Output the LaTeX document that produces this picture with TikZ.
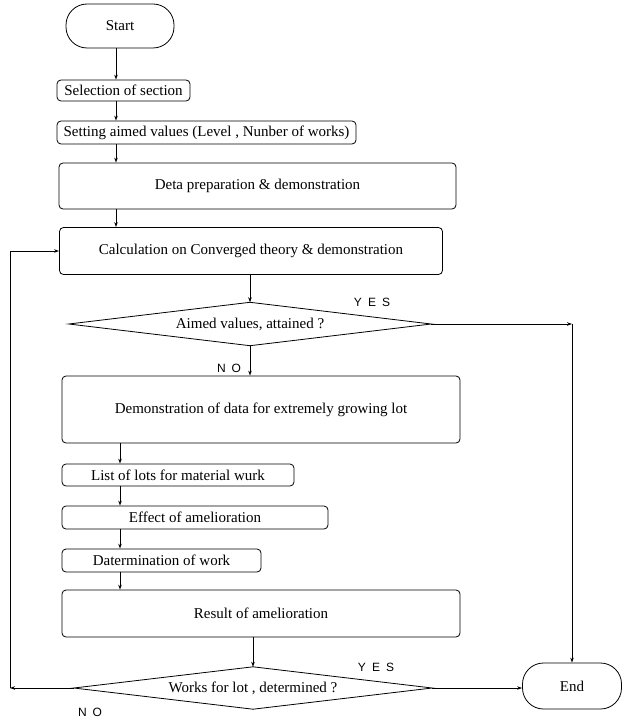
\documentclass[tikz,border=0pt]{standalone}
\usepackage{fontspec}
\setmainfont{Liberation Serif}
\newfontfamily\lblfont{Liberation Sans}
\usetikzlibrary{arrows.meta}
\tikzset{
  every picture/.style={x=1pt,y=-1pt},
  box/.style={draw,line width=0.8pt,rounded corners=4pt,inner sep=0pt,font=\fontsize{15}{17}\selectfont},
  term/.style={draw,line width=0.8pt,rounded corners=21pt,inner sep=0pt,font=\fontsize{15}{17}\selectfont},
  dec/.style={inner sep=0pt,font=\fontsize{15}{17}\selectfont},
  decline/.style={line width=0.8pt},
  conn/.style={line width=0.8pt,-{Stealth[length=5pt,width=3.5pt]}},
  yn/.style={font=\lblfont\fontsize{12}{14}\selectfont}
}
\newcommand{\spaced}[1]{#1}
\begin{document}
\begin{tikzpicture}
\useasboundingbox (0,0) rectangle (622,722);
\node[term,minimum width=108pt,minimum height=44pt] (start) at (120,26) {Start};
\node[box,minimum width=133pt,minimum height=21pt] (sel) at (123.5,90.5) {Selection of section};
\node[box,minimum width=299pt,minimum height=23pt] (set) at (206.5,132.5) {Setting aimed values (Level , Nunber of works)};
\node[box,minimum width=397pt,minimum height=46pt] (deta) at (257.5,186) {Deta preparation \& demonstration};
\node[box,minimum width=383pt,minimum height=47pt] (calc) at (251,251) {Calculation on Converged theory \& demonstration};
\node[dec,minimum width=362pt,minimum height=43pt] (d1) at (250,324) {Aimed values, attained ?};
\draw[decline] (d1.north) -- (d1.east) -- (d1.south) -- (d1.west) -- cycle;
\node[box,minimum width=398pt,minimum height=67pt] (demo) at (261,409.5) {Demonstration of data for extremely growing lot};
\node[box,minimum width=232pt,minimum height=22pt] (list) at (178,475) {List of lots for material wurk};
\node[box,minimum width=266pt,minimum height=23pt] (eff) at (195,517.5) {Effect of amelioration};
\node[box,minimum width=199pt,minimum height=23pt] (det) at (161.5,560.5) {Datermination of work};
\node[box,minimum width=398pt,minimum height=47pt] (res) at (261,613.5) {Result of amelioration};
\node[dec,minimum width=358pt,minimum height=42pt] (d2) at (253,688) {Works for lot , determined ?};
\draw[decline] (d2.north) -- (d2.east) -- (d2.south) -- (d2.west) -- cycle;
\node[term,minimum width=99pt,minimum height=46pt] (end) at (572,686) {End};
\coordinate (c1) at (116,0);
\coordinate (c2) at (120,0);
\coordinate (c0) at (10,0);
\draw[conn] (start.south -| c1) -- (sel.north -| c1);
\draw[conn] (sel.south -| c1) -- (set.north -| c1);
\draw[conn] (set.south -| c1) -- (deta.north -| c1);
\draw[conn] (deta.south -| c1) -- (calc.north -| c1);
\draw[conn] (calc.south -| d1.north) -- (d1.north);
\draw[conn] (d1.south) -- (demo.north -| d1.south);
\coordinate (k1) at (d1.east -| end.north);
\draw[conn] (d1.east) -- (k1);
\draw[conn] (k1) -- (end.north);
\draw[conn] (demo.south -| c2) -- (list.north -| c2);
\draw[conn] (list.south -| c2) -- (eff.north -| c2);
\draw[conn] (eff.south -| c2) -- (det.north -| c2);
\draw[conn] (det.south -| c2) -- (res.north -| c2);
\draw[conn] (res.south -| d2.north) -- (d2.north);
\draw[conn] (d2.east) -- (d2.east -| end.west);
\coordinate (k2) at (d2.west -| c0);
\draw[conn] (d2.west) -- (k2);
\draw[conn] (k2) -- (calc.west -| c0) -- (calc.west);
\node[yn] (y1) at (372,302) {Y\hspace{6pt}E\hspace{6pt}S};
\node[yn] (n1) at (229,368) {N\hspace{6pt}O};
\node[yn] (y2) at (376,667) {Y\hspace{6pt}E\hspace{6pt}S};
\node[yn] (n2) at (90,712) {N\hspace{6pt}O};
\end{tikzpicture}
\end{document}
